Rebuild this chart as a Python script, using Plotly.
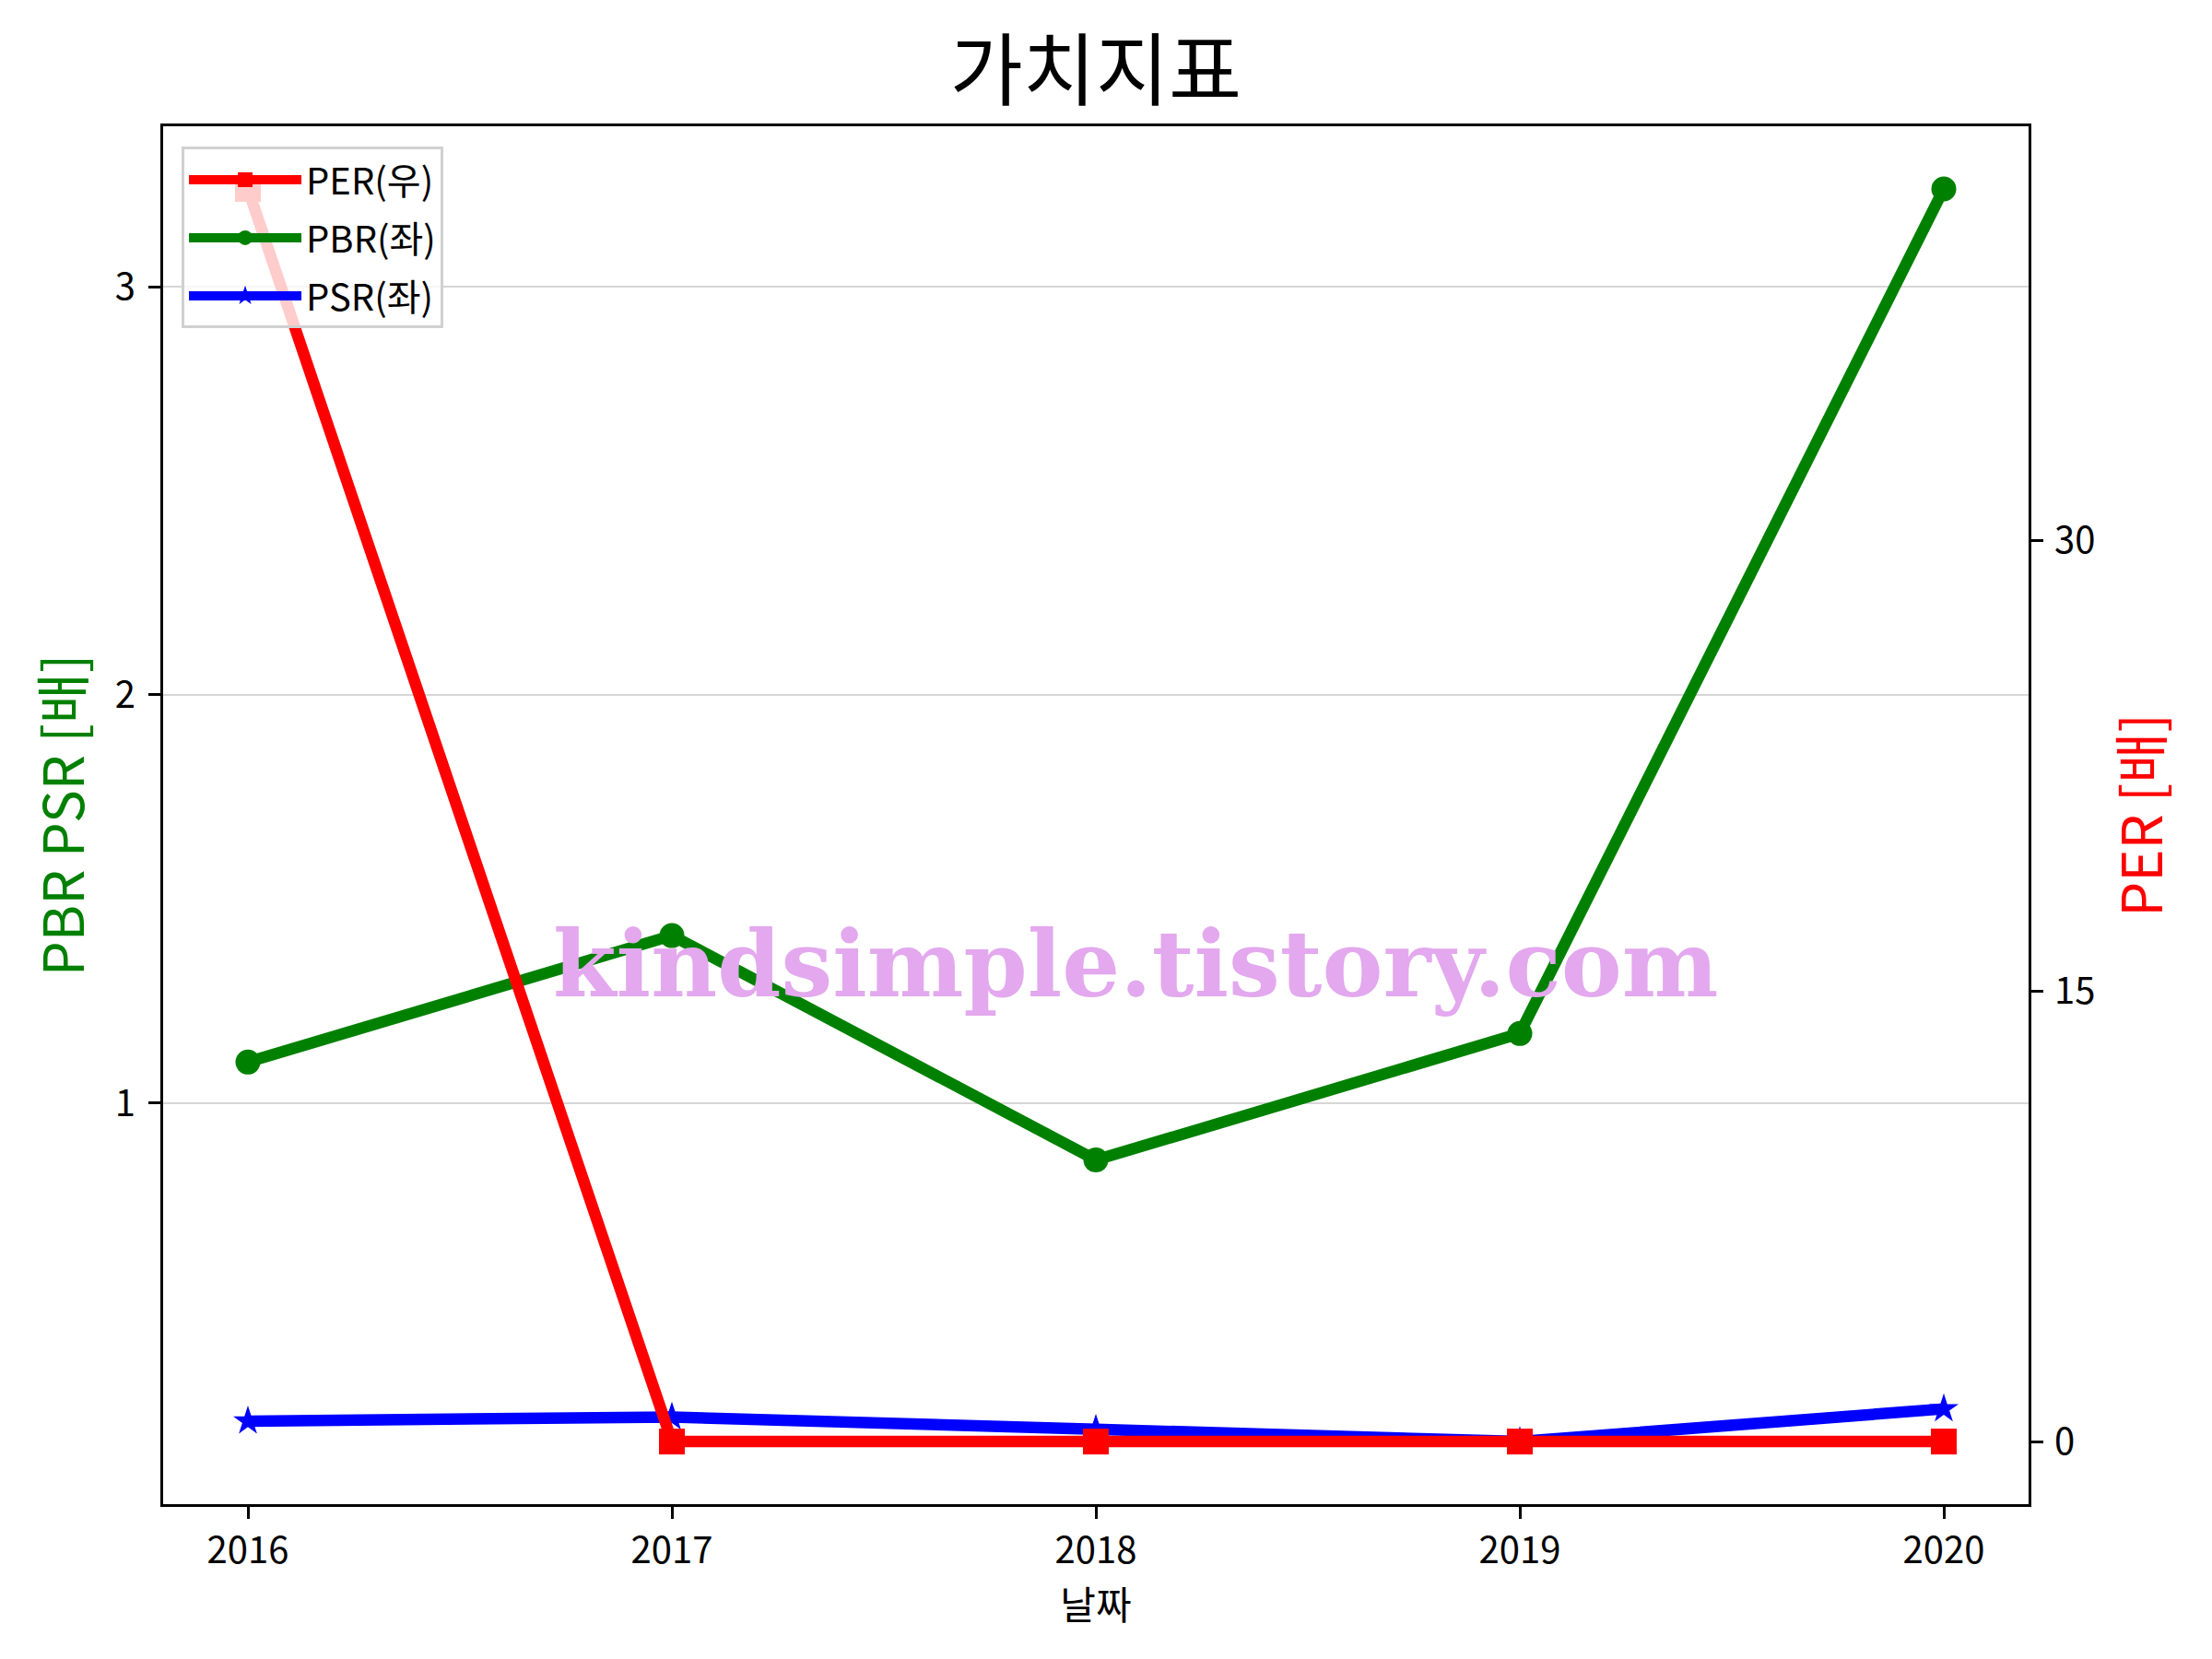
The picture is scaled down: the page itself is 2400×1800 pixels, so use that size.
import plotly.graph_objects as go

years = [2016, 2017, 2018, 2019, 2020]
per = [41.7, 0.0, 0.0, 0.0, 0.0]
pbr = [1.10, 1.41, 0.86, 1.17, 3.24]
psr = [0.22, 0.23, 0.20, 0.17, 0.25]

left_ticks = [1, 2, 3]
right_ticks = [0, 15, 30]

FONT = "Noto Sans CJK KR, Malgun Gothic, sans-serif"
W, H = 2400, 1800
L, R, T, B = 177, 199, 137, 168


def pad(lo, hi, frac=0.05):
    d = (hi - lo) * frac
    return [lo - d, hi + d]


fig = go.Figure()
fig.add_trace(go.Scatter(
    x=years, y=per, name="PER(우)", yaxis="y2", mode="lines+markers",
    legendgroup="per",
    line=dict(color="#ff0000", width=12.5),
    marker=dict(symbol="square", size=28, color="#ff0000"),
))
fig.add_trace(go.Scatter(
    x=years, y=pbr, name="PBR(좌)", mode="lines+markers",
    legendgroup="pbr",
    line=dict(color="#008000", width=12.5),
    marker=dict(symbol="circle", size=27, color="#008000"),
))
fig.add_trace(go.Scatter(
    x=years, y=psr, name="PSR(좌)", mode="lines+markers",
    legendgroup="psr",
    line=dict(color="#0000ff", width=12.5),
    marker=dict(symbol="star", size=24, color="#0000ff"),
))

axis_common = dict(
    zeroline=False, showline=True, linecolor="black", linewidth=3,
    ticks="outside", ticklen=13, tickwidth=3, tickcolor="black",
    tickfont=dict(size=40),
)

fig.update_layout(
    width=W, height=H,
    margin=dict(l=L, r=R, t=T, b=B, autoexpand=False),
    paper_bgcolor="white", plot_bgcolor="white",
    font=dict(family=FONT, size=42, color="black"),
    title=dict(text="가치지표", x=0.5, xref="paper", xanchor="center",
               y=1 - 78 / H, yanchor="middle", yref="container",
               font=dict(size=86, color="black", family=FONT)),
    showlegend=True,
    legend=dict(x=0.0099, y=0.985, xanchor="left", yanchor="top",
                bgcolor="rgba(255,255,255,0.8)", bordercolor="#d0d0d0",
                borderwidth=3, font=dict(size=40, family=FONT),
                tracegroupgap=8, itemwidth=122),
    xaxis=dict(range=pad(2016, 2020, 0.05), tickvals=years,
               ticktext=[str(y) for y in years], showgrid=False, mirror=True,
               title=dict(text="날짜", font=dict(size=42), standoff=12),
               **axis_common),
    yaxis=dict(range=pad(min(pbr + psr), max(pbr + psr)), tickvals=left_ticks,
               showgrid=True, gridcolor="#d6d6d6", gridwidth=2,
               ticklabelstandoff=6,
               title=dict(text="PBR PSR [배]", font=dict(size=60, color="#008000"),
                          standoff=14),
               **axis_common),
    yaxis2=dict(range=pad(min(per), max(per)), tickvals=right_ticks,
                overlaying="y", side="right", showgrid=False,
                ticklabelstandoff=4,
                title=dict(text="PER [배]", font=dict(size=60, color="#ff0000"),
                           standoff=32),
                **axis_common),
)

fig.add_annotation(
    text="<b>kindsimple.tistory.com</b>", x=0.521, y=0.392,
    xref="paper", yref="paper", xanchor="center", yanchor="middle",
    showarrow=False,
    font=dict(family="DejaVu Serif", size=99, color="#E3A8EE"),
)

fig.write_html("out.html", config={"displayModeBar": False},
               post_script="document.body.style.margin='0px';")
